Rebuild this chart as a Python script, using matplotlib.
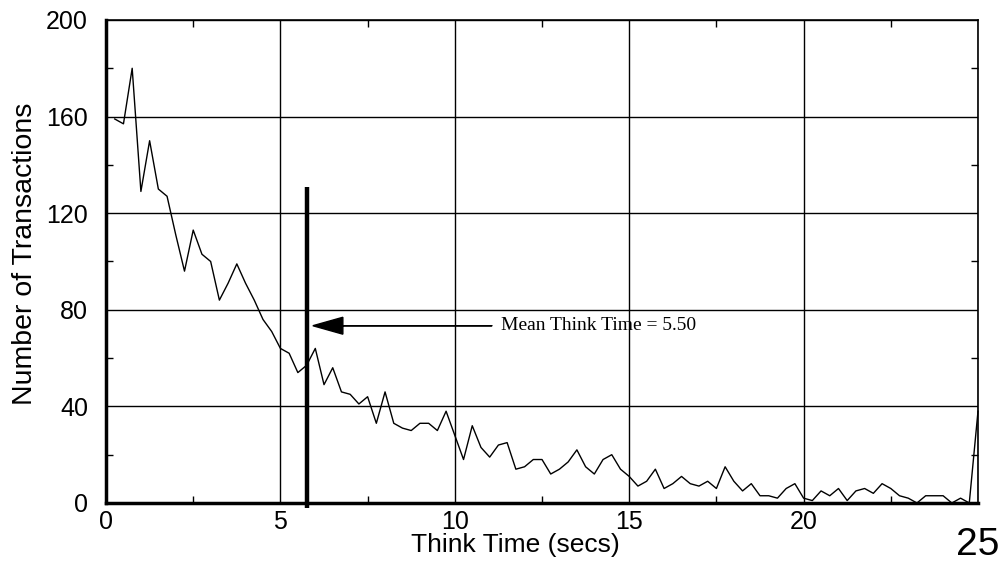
import numpy as np
import matplotlib
matplotlib.use("Agg")
import matplotlib.pyplot as plt
from matplotlib.ticker import MultipleLocator

# Datos: numero de transacciones por intervalo de 0.25 s
bin_width = 0.25
counts = [159, 157, 180, 129, 150, 130, 127, 111, 96, 113, 103, 100,
          84, 91, 99, 91, 84, 76, 71, 64, 62, 54, 57, 64,
          49, 56, 46, 45, 41, 44, 33, 46, 33, 31, 30, 33,
          33, 30, 38, 28, 18, 32, 23, 19, 24, 25, 14, 15,
          18, 18, 12, 14, 17, 22, 15, 12, 18, 20, 14, 11,
          7, 9, 14, 6, 8, 11, 8, 7, 9, 6, 15, 9,
          5, 8, 3, 3, 2, 6, 8, 2, 1, 5, 3, 6,
          1, 5, 6, 4, 8, 6, 3, 2, 0, 3, 3, 3,
          0, 2, 0, 38]
think_time = np.arange(1, len(counts) + 1) * bin_width

mean_label = "Mean Think Time = 5.50"
mean_pos = 5.77      # donde esta dibujada la barra en la figura
mean_top = 131
arrow_y = 73.4
arrow_tail = 11.07
arrow_tip = 5.93

xticks = [0, 5, 10, 15, 20, 25]
yticks = [0, 40, 80, 120, 160, 200]

plt.rcParams["font.family"] = ["Liberation Sans", "DejaVu Sans"]

fig = plt.figure(figsize=(10.04, 5.61), dpi=100)
ax = fig.add_axes([0.1056, 0.1034, 0.8685, 0.8610])

ax.plot(think_time, counts, color="black", lw=1.0, clip_on=False, zorder=3)

ax.set_xlim(0, 25)
ax.set_ylim(0, 200)
ax.set_xticks(xticks)
ax.set_yticks(yticks)
ax.xaxis.set_minor_locator(MultipleLocator(2.5))
ax.yaxis.set_minor_locator(MultipleLocator(20))
ax.grid(True, which="major", color="black", lw=1.0)
ax.tick_params(which="both", direction="in", top=True, right=True)
ax.tick_params(which="major", length=0, labelsize=18)
ax.tick_params(axis="x", which="major", pad=5)
ax.tick_params(axis="y", which="major", pad=13)
ax.tick_params(which="minor", length=5, width=1)

# el "25" del eje sale mucho mas grande y mas abajo
last = ax.xaxis.get_major_ticks()[-1]
last.label1.set_fontsize(28)
last.set_pad(17)

for side in ["left", "bottom"]:
    ax.spines[side].set_linewidth(2.5)
for side in ["top", "right"]:
    ax.spines[side].set_linewidth(1.2)

ax.set_xlabel("Think Time (secs)", fontsize=19)
ax.xaxis.set_label_coords(0.469, -0.062)
ax.set_ylabel("Number of Transactions", fontsize=20.5)
ax.yaxis.set_label_coords(-0.078, 0.516)

# barra de la media y flecha
ax.plot([mean_pos, mean_pos], [-2, mean_top], color="black", lw=3.2,
        clip_on=False, zorder=4, solid_capstyle="butt")
ax.arrow(arrow_tail, arrow_y, arrow_tip - arrow_tail, 0, head_width=7,
         head_length=0.86, length_includes_head=True, fc="black",
         ec="black", lw=1.0, zorder=4)
ax.text(arrow_tail + 0.25, arrow_y, mean_label, fontsize=14,
        family="Liberation Serif", va="center", ha="left", zorder=5)

fig.savefig("out.png", dpi=100)
